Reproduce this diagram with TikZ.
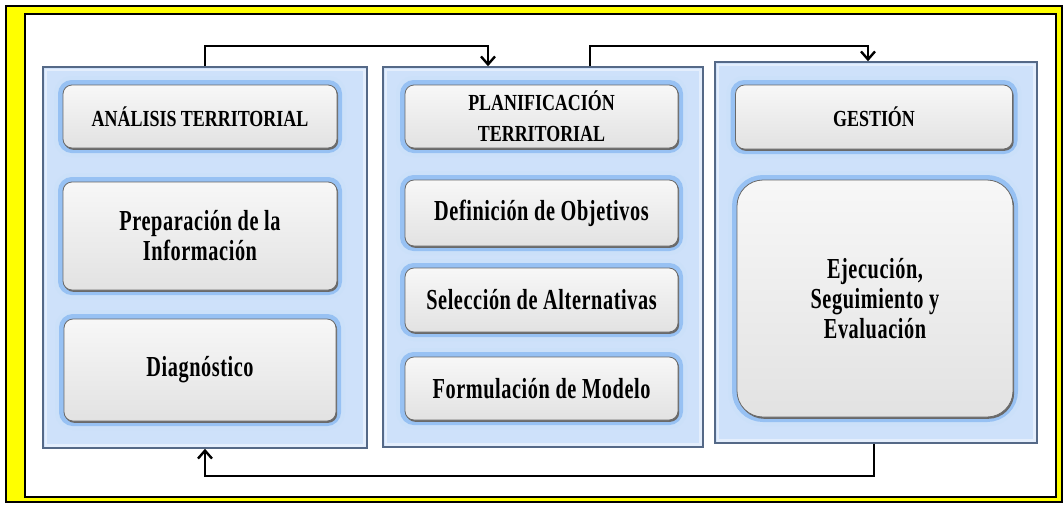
\documentclass[tikz,border=0pt]{standalone}
\usepackage{fontspec}
\newfontfamily\titlefont{Liberation Serif}[FakeStretch=0.78]
\newfontfamily\bodyfont{Liberation Serif}[FakeStretch=0.7, LetterSpace=2]
\usepackage{tikz}
\usetikzlibrary{calc}
\usetikzlibrary{arrows.meta}

\definecolor{panelblue}{RGB}{206,225,250}
\definecolor{glowblue}{RGB}{125,178,240}
\definecolor{panelline}{RGB}{85,105,135}
\definecolor{panelbevel}{RGB}{228,238,252}
\definecolor{boxgray}{RGB}{226,226,226}
\definecolor{boxline}{RGB}{105,105,105}
\definecolor{frameyellow}{RGB}{255,255,0}

\begin{document}
\begin{tikzpicture}[x=1pt, y=-1pt,
        panel/.style={rectangle, draw=panelline, line width=1.5pt, fill=panelblue, inner sep=0pt},
        stage/.style={rectangle, rounded corners=9pt, draw=boxline, line width=0.8pt,
            top color=gray!6, bottom color=boxgray, inner sep=0pt, align=center,
            preaction={draw=glowblue!40, line width=18pt},
            preaction={draw=glowblue!80, line width=10pt},
            preaction={fill=boxline, transform canvas={shift={(1.2pt,-1.8pt)}}}},
        title/.style={stage, font=\titlefont\bfseries\fontsize{23}{31}\selectfont},
        task/.style={stage, font=\bodyfont\bfseries\fontsize{29}{30}\selectfont},
        flow/.style={draw=black, line width=2.4pt, -{Straight Barb[length=8pt, width=14pt]}}]
        \useasboundingbox (0,0) rectangle (1064,504);
        \fill[white] (0,0) rectangle (1064,504);
        % frame
        \draw[line width=1.5pt, fill=frameyellow] (6,6) rectangle (1062,502);
        \draw[line width=1.5pt, fill=white] (25,14) rectangle (1056,497);

        % panels
        \node[panel, minimum width=324, minimum height=381] (analisis) at (205,257.5) {};
        \node[panel, minimum width=320, minimum height=380] (planif) at (543,257) {};
        \node[panel, minimum width=322, minimum height=381] (gestion) at (876,252.5) {};
        \foreach \p in {analisis, planif, gestion}
        {
            \draw[panelbevel, line width=2.5pt] ($(\p.north west)+(3.5pt,-3.5pt)$) rectangle ($(\p.south east)+(-3.5pt,3.5pt)$);
        }

        % left column
        \node[title, minimum width=274, minimum height=63] (tanalisis) at (200,116.5) {ANÁLISIS TERRITORIAL};
        \node[task, minimum width=274, minimum height=108] (prep) at (200,236) {Preparación de la\\Información};
        \node[task, minimum width=272, minimum height=102] (diag) at (200,370) {Diagnóstico};

        % middle column
        \node[title, minimum width=273, minimum height=63] (tplanif) at (541.5,116.5) {PLANIFICACIÓN\\TERRITORIAL};
        \node[task, minimum width=273, minimum height=66] (obj) at (541.5,213) {Definición de Objetivos};
        \node[task, minimum width=273, minimum height=64] (alt) at (541.5,300) {Selección de Alternativas};
        \node[task, minimum width=273, minimum height=63] (modelo) at (541.5,388.5) {Formulación de Modelo};

        % right column
        \node[title, minimum width=277, minimum height=64] (tgestion) at (874,117) {GESTIÓN};
        \node[task, rounded corners=26pt, minimum width=276, minimum height=237] (ejec) at (875,298.5) {Ejecución,\\Seguimiento y\\Evaluación};

        % connectors
        \draw[flow] (analisis.north) -- ++(0,-20) -| ($(planif.north)+(-55pt,0)$);
        \draw[flow] ($(planif.north)+(47pt,0)$) -- ++(0,-20) -| ($(gestion.north)+(-8pt,0)$);
        \draw[flow] ($(gestion.south)+(-2pt,0)$) -- ++(0,32) -| (analisis.south);
    \end{tikzpicture}
\end{document}
